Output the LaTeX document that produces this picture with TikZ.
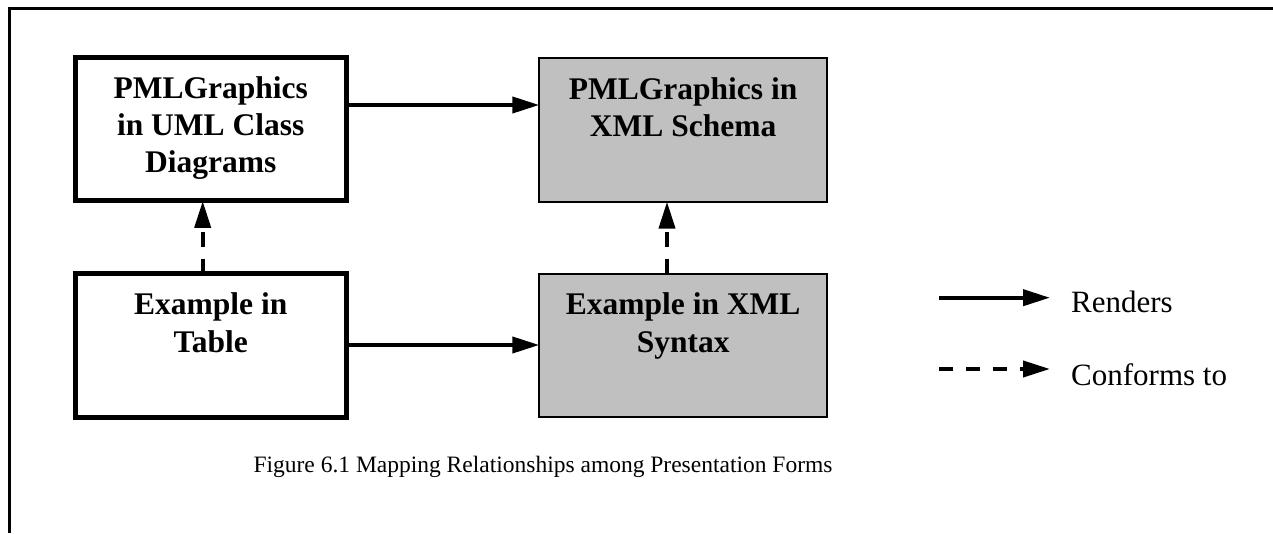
\documentclass[tikz,border=0pt]{standalone}
\usepackage{fontspec}
\setmainfont{Liberation Serif}
\usetikzlibrary{arrows.meta}
\definecolor{boxgray}{HTML}{C0C0C0}
\begin{document}
\begin{tikzpicture}[x=1pt,y=1pt,
  whitebox/.style={draw, line width=5pt, fill=white, minimum width=271.5pt, minimum height=143pt, inner sep=0pt, outer sep=0pt},
  graybox/.style={draw, line width=1.8pt, fill=boxgray, minimum width=287.7pt, minimum height=143.5pt, inner sep=0pt, outer sep=0pt},
  boxtext/.style={font=\fontsize{31.5}{37}\selectfont\bfseries, align=center, inner sep=0pt, anchor=base},
  legtext/.style={font=\fontsize{31}{37}\selectfont, inner sep=0pt, anchor=base west},
  captext/.style={font=\fontsize{23.5}{28}\selectfont, inner sep=0pt, anchor=base},
  renders/.style={line width=4pt, -{Triangle[length=27pt,width=16pt]}},
  conforms/.style={renders, dash pattern=on 15pt off 12pt},
  frameline/.style={line width=2.5pt}]
\useasboundingbox (0,0) rectangle (1273,533);
% frame
\coordinate (fa) at (9.5,0);
\coordinate (fb) at (9.5,524.5);
\coordinate (fc) at (1273,524.5);
\draw[frameline] (fa) -- (fb) -- (fc);
% boxes
\node[whitebox] (uml) at (210.75,403.5) {};
\node[graybox] (schema) at (683.15,403.1) {};
\node[whitebox] (table) at (210.75,187.5) {};
\node[graybox] (xmlsyn) at (683.15,187.4) {};
% box texts (anchor base = last line baseline)
\node[boxtext] (umlt) at (210.75,360) {PMLGraphics\\in UML Class\\Diagrams};
\node[boxtext] (schemat) at (683.15,396) {PMLGraphics in\\XML Schema};
\node[boxtext] (tablet) at (210.75,181) {Example in\\Table};
\node[boxtext] (xmlsynt) at (683.15,181) {Example in XML\\Syntax};
% connectors
\coordinate (r1) at (0,428);
\coordinate (r2) at (0,188);
\coordinate (c1) at (202.7,0);
\coordinate (c2) at (667,0);
\draw[renders] (uml.east |- r1) -- (schema.west |- r1);
\draw[renders] (table.east |- r2) -- (xmlsyn.west |- r2);
\draw[conforms] (table.north -| c1) -- (uml.south -| c1);
\draw[conforms] (xmlsyn.north -| c2) -- (schema.south -| c2);
% legend
\coordinate (l1s) at (939,235.3);
\coordinate (l1e) at (1050,235.3);
\coordinate (l2s) at (939,164);
\coordinate (l2e) at (1050,164);
\draw[renders] (l1s) -- (l1e);
\draw[renders, dash pattern=on 14pt off 13pt] (l2s) -- (l2e);
\node[legtext] (lrend) at (1071,220) {Renders};
\node[legtext] (lconf) at (1071,148) {Conforms to};
% caption
\node[captext] (cap) at (543,61) {Figure 6.1 Mapping Relationships among Presentation Forms};
\end{tikzpicture}
\end{document}
